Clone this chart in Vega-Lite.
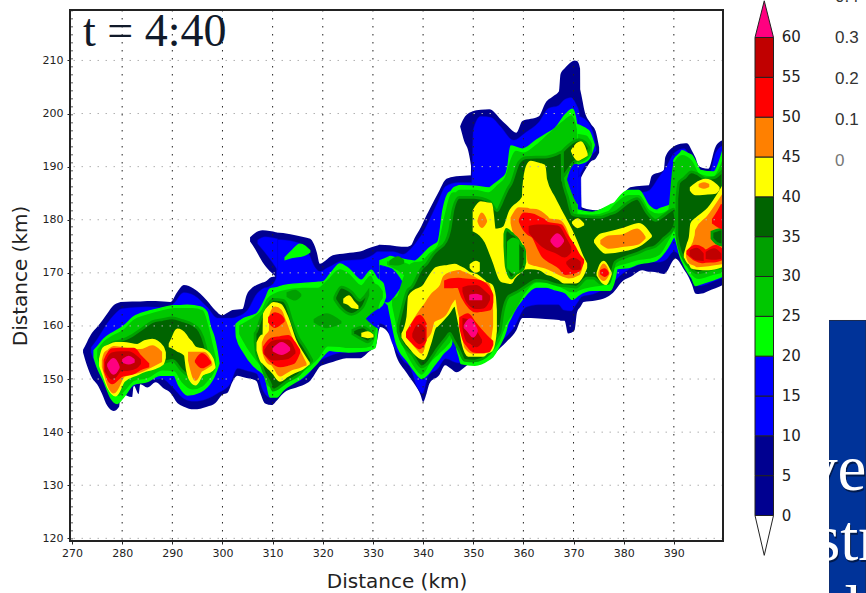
{"$schema":"https://vega.github.io/schema/vega-lite/v6.json","background":"white","padding":{"left":10,"top":-12,"right":0,"bottom":0},"bounds":"flush","spacing":32,"config":{"view":{"stroke":null}},
"datasets":{"storm":[
{"b":"a","v":5,"x":272.2,"y":155.5,"z":155},{"b":"a","v":5,"x":273,"y":157,"z":152.5},{"b":"a","v":5,"x":274,"y":158.7,"z":150.2},{"b":"a","v":5,"x":275,"y":159.8,"z":149},{"b":"a","v":5,"x":276,"y":161,"z":147.2},{"b":"a","v":5,"x":277,"y":162.3,"z":145},{"b":"a","v":5,"x":278.3,"y":163.9,"z":144},{"b":"a","v":5,"x":279.4,"y":164.4,"z":144.8},{"b":"a","v":5,"x":279.7,"y":164.5,"z":147.2},{"b":"a","v":5,"x":282,"y":164.6,"z":146.6},{"b":"a","v":5,"x":282.3,"y":164.6,"z":148.8},{"b":"a","v":5,"x":283.3,"y":164.6,"z":147.2},{"b":"a","v":5,"x":283.6,"y":164.6,"z":149},{"b":"a","v":5,"x":285,"y":164.7,"z":148.4},{"b":"a","v":5,"x":286.7,"y":164.7,"z":149.4},{"b":"a","v":5,"x":288.3,"y":164.6,"z":148.2},{"b":"a","v":5,"x":289.6,"y":164.5,"z":147.4},{"b":"a","v":5,"x":291,"y":166.4,"z":145.5},{"b":"a","v":5,"x":292.3,"y":167.7,"z":144.8},{"b":"a","v":5,"x":294.3,"y":167,"z":144.3},{"b":"a","v":5,"x":296.9,"y":164.8,"z":144.8},{"b":"a","v":5,"x":298.6,"y":162.9,"z":145.5},{"b":"a","v":5,"x":299.9,"y":162,"z":147},{"b":"a","v":5,"x":301,"y":162.5,"z":147.4},{"b":"a","v":5,"x":302,"y":163,"z":149.5},{"b":"a","v":5,"x":303,"y":163.1,"z":150.6},{"b":"a","v":5,"x":304,"y":163.2,"z":150.4},{"b":"a","v":5,"x":304.8,"y":165.8,"z":150.2},{"b":"a","v":5,"x":305.8,"y":167.1,"z":150},{"b":"a","v":5,"x":306.8,"y":167.7,"z":149.6},{"b":"a","v":5,"x":307.5,"y":168,"z":147.5},{"b":"a","v":5,"x":308.5,"y":168.3,"z":145.4},{"b":"a","v":5,"x":309.8,"y":169.2,"z":145.1},{"b":"a","v":5,"x":310.5,"y":169.3,"z":145.6},{"b":"a","v":5,"x":310.7,"y":177.6,"z":145.8},{"b":"a","v":5,"x":312.1,"y":177.5,"z":147.3},{"b":"a","v":5,"x":315,"y":177,"z":148.5},{"b":"a","v":5,"x":316.8,"y":176.6,"z":149.2},{"b":"a","v":5,"x":317.5,"y":176.4,"z":149.7},{"b":"a","v":5,"x":318.8,"y":173.9,"z":151.5},{"b":"a","v":5,"x":319.4,"y":171.7,"z":152.3},{"b":"a","v":5,"x":320.5,"y":172.3,"z":152.8},{"b":"a","v":5,"x":322,"y":173.3,"z":153.2},{"b":"a","v":5,"x":324.7,"y":173.7,"z":153.9},{"b":"a","v":5,"x":327.4,"y":174,"z":153.9},{"b":"a","v":5,"x":329,"y":174.6,"z":155},{"b":"a","v":5,"x":330.7,"y":175.1,"z":156.7},{"b":"a","v":5,"x":331.4,"y":175.3,"z":159.8},{"b":"a","v":5,"x":333.4,"y":175.2,"z":158.2},{"b":"a","v":5,"x":334.7,"y":175,"z":154.2},{"b":"a","v":5,"x":336.7,"y":174.9,"z":151.2},{"b":"a","v":5,"x":337.7,"y":175.3,"z":149.8},{"b":"a","v":5,"x":338.3,"y":176.5,"z":149},{"b":"a","v":5,"x":339.5,"y":178.5,"z":147},{"b":"a","v":5,"x":340,"y":179.5,"z":145.7},{"b":"a","v":5,"x":340.7,"y":180.9,"z":147.3},{"b":"a","v":5,"x":341.3,"y":182,"z":149.2},{"b":"a","v":5,"x":343.2,"y":185.4,"z":150.7},{"b":"a","v":5,"x":344.4,"y":187.5,"z":152.6},{"b":"a","v":5,"x":345.5,"y":188,"z":152},{"b":"a","v":5,"x":346.6,"y":188.2,"z":151.3},{"b":"a","v":5,"x":349.6,"y":188.4,"z":152.9},{"b":"a","v":5,"x":349.8,"y":200.4,"z":152.9},{"b":"a","v":5,"x":351.5,"y":200.7,"z":153.3},{"b":"a","v":5,"x":353.2,"y":200.8,"z":153.8},{"b":"a","v":5,"x":355.5,"y":198.9,"z":156},{"b":"a","v":5,"x":356.5,"y":198,"z":156.9},{"b":"a","v":5,"x":358.6,"y":196.4,"z":159.2},{"b":"a","v":5,"x":359.8,"y":198.6,"z":161.5},{"b":"a","v":5,"x":361.5,"y":199,"z":161.5},{"b":"a","v":5,"x":363.1,"y":199.5,"z":161.4},{"b":"a","v":5,"x":364.4,"y":202,"z":161.3},{"b":"a","v":5,"x":366,"y":203.3,"z":161.2},{"b":"a","v":5,"x":367.1,"y":204.2,"z":161.1},{"b":"a","v":5,"x":367.4,"y":207.4,"z":161},{"b":"a","v":5,"x":368.2,"y":208.5,"z":161},{"b":"a","v":5,"x":368.9,"y":209.2,"z":158.6},{"b":"a","v":5,"x":370.2,"y":210,"z":159.2},{"b":"a","v":5,"x":370.7,"y":209.9,"z":162.6},{"b":"a","v":5,"x":371.3,"y":208.5,"z":163.5},{"b":"a","v":5,"x":371.45,"y":182.5,"z":163.7},{"b":"a","v":5,"x":372,"y":182.2,"z":164.5},{"b":"a","v":5,"x":374.4,"y":181.8,"z":164.8},{"b":"a","v":5,"x":376.4,"y":182.3,"z":165.3},{"b":"a","v":5,"x":377.7,"y":182.7,"z":166.1},{"b":"a","v":5,"x":380,"y":184.9,"z":168.6},{"b":"a","v":5,"x":381.3,"y":186.1,"z":169.2},{"b":"a","v":5,"x":383.7,"y":186.4,"z":170.5},{"b":"a","v":5,"x":385,"y":186.5,"z":170.2},{"b":"a","v":5,"x":385.6,"y":188.3,"z":170.2},{"b":"a","v":5,"x":388,"y":189.3,"z":169.8},{"b":"a","v":5,"x":388.3,"y":191.8,"z":169.9},{"b":"a","v":5,"x":390,"y":193.8,"z":172.5},{"b":"a","v":5,"x":390.3,"y":194,"z":172.7},{"b":"a","v":5,"x":392.3,"y":194.4,"z":170.2},{"b":"a","v":5,"x":392.6,"y":194.4,"z":169.8},{"b":"a","v":5,"x":393.6,"y":193,"z":167.8},{"b":"a","v":5,"x":394.3,"y":191.7,"z":166.1},{"b":"a","v":5,"x":394.9,"y":190.2,"z":166},{"b":"a","v":5,"x":395.6,"y":189.8,"z":166.1},{"b":"a","v":5,"x":396.9,"y":189.6,"z":166.6},{"b":"a","v":5,"x":398.3,"y":193.7,"z":167.1},{"b":"a","v":5,"x":399.75,"y":195,"z":167.7},
{"b":"a2","v":5,"x":305.5,"y":176.7,"z":175.9},{"b":"a2","v":5,"x":306.5,"y":177.5,"z":174.5},{"b":"a2","v":5,"x":308,"y":178,"z":172},{"b":"a2","v":5,"x":310.8,"y":177.6,"z":169.2},
{"b":"a3","v":5,"x":347.4,"y":197.6,"z":197.5},{"b":"a3","v":5,"x":348.2,"y":199.2,"z":194.8},{"b":"a3","v":5,"x":349,"y":200,"z":193},{"b":"a3","v":5,"x":349.9,"y":200.4,"z":188},
{"b":"a4","v":5,"x":370.5,"y":203.6,"z":186},{"b":"a4","v":5,"x":371,"y":205,"z":187},{"b":"a4","v":5,"x":372.4,"y":199.8,"z":189.5},{"b":"a4","v":5,"x":373.5,"y":198,"z":191},{"b":"a4","v":5,"x":374.4,"y":196.7,"z":191.5},{"b":"a4","v":5,"x":375.1,"y":193.6,"z":192.6},
{"b":"c","v":15,"x":273.8,"y":156,"z":155},{"b":"c","v":15,"x":275,"y":157.5,"z":152},{"b":"c","v":15,"x":276,"y":159,"z":150},{"b":"c","v":15,"x":277,"y":160.5,"z":148},{"b":"c","v":15,"x":278.3,"y":162,"z":147},{"b":"c","v":15,"x":280,"y":163.3,"z":147.5},{"b":"c","v":15,"x":285,"y":163.6,"z":149.8},{"b":"c","v":15,"x":288,"y":163.5,"z":150},{"b":"c","v":15,"x":290,"y":164,"z":148.5},{"b":"c","v":15,"x":292.3,"y":166.3,"z":146.3},{"b":"c","v":15,"x":294.3,"y":165.8,"z":145.8},{"b":"c","v":15,"x":297,"y":163.5,"z":146.3},{"b":"c","v":15,"x":299,"y":161.5,"z":147.3},{"b":"c","v":15,"x":301.5,"y":161.5,"z":149},{"b":"c","v":15,"x":303,"y":161.8,"z":152},{"b":"c","v":15,"x":305,"y":163,"z":151.5},{"b":"c","v":15,"x":306.8,"y":166,"z":151},{"b":"c","v":15,"x":308,"y":167,"z":148},{"b":"c","v":15,"x":309.5,"y":167.5,"z":146.5},{"b":"c","v":15,"x":310.7,"y":169,"z":147},{"b":"c","v":15,"x":310.9,"y":176.3,"z":147.4},{"b":"c","v":15,"x":312.5,"y":176.2,"z":148.5},{"b":"c","v":15,"x":316,"y":175.3,"z":150},{"b":"c","v":15,"x":317.3,"y":173.5,"z":151},{"b":"c","v":15,"x":318.2,"y":171.5,"z":152.5},{"b":"c","v":15,"x":319.5,"y":170.3,"z":153.5},{"b":"c","v":15,"x":321,"y":171,"z":154.2},{"b":"c","v":15,"x":324,"y":172.3,"z":155},{"b":"c","v":15,"x":327.5,"y":172.5,"z":155.2},{"b":"c","v":15,"x":330,"y":173.4,"z":157.5},{"b":"c","v":15,"x":331,"y":174,"z":160.5},{"b":"c","v":15,"x":332.5,"y":174,"z":160},{"b":"c","v":15,"x":334,"y":174,"z":156.5},{"b":"c","v":15,"x":336,"y":173.5,"z":153.5},{"b":"c","v":15,"x":337.5,"y":174.5,"z":152},{"b":"c","v":15,"x":338.8,"y":176,"z":148.5},{"b":"c","v":15,"x":339.9,"y":177.5,"z":147.3},{"b":"c","v":15,"x":341,"y":179.5,"z":150.5},{"b":"c","v":15,"x":343,"y":183.5,"z":152},{"b":"c","v":15,"x":344.5,"y":186.3,"z":153.8},{"b":"c","v":15,"x":347,"y":187,"z":153},{"b":"c","v":15,"x":349.7,"y":187,"z":154},{"b":"c","v":15,"x":350,"y":197,"z":154.2},{"b":"c","v":15,"x":351.5,"y":199.5,"z":154.5},{"b":"c","v":15,"x":353.5,"y":199.3,"z":155},{"b":"c","v":15,"x":355.5,"y":197.5,"z":157},{"b":"c","v":15,"x":358,"y":195,"z":159.5},{"b":"c","v":15,"x":360.5,"y":196.5,"z":163.5},{"b":"c","v":15,"x":363,"y":198.3,"z":164},{"b":"c","v":15,"x":365,"y":201,"z":164},{"b":"c","v":15,"x":367,"y":201.5,"z":164},{"b":"c","v":15,"x":368,"y":202.5,"z":163},{"b":"c","v":15,"x":369.5,"y":203,"z":162.8},{"b":"c","v":15,"x":370.5,"y":201.8,"z":164},{"b":"c","v":15,"x":371.2,"y":200,"z":165},{"b":"c","v":15,"x":371.6,"y":181.5,"z":165.5},{"b":"c","v":15,"x":374,"y":181,"z":166},{"b":"c","v":15,"x":377,"y":181.5,"z":167.5},{"b":"c","v":15,"x":380,"y":183.7,"z":170},{"b":"c","v":15,"x":383,"y":185,"z":171.5},{"b":"c","v":15,"x":385,"y":185.5,"z":172},{"b":"c","v":15,"x":387,"y":188,"z":172},{"b":"c","v":15,"x":388.5,"y":190,"z":172.5},{"b":"c","v":15,"x":390,"y":192.5,"z":174},{"b":"c","v":15,"x":392,"y":193.4,"z":172},{"b":"c","v":15,"x":393.5,"y":191.5,"z":169},{"b":"c","v":15,"x":395,"y":189.2,"z":167.5},{"b":"c","v":15,"x":397,"y":188.5,"z":168},{"b":"c","v":15,"x":398.3,"y":192.5,"z":168.5},{"b":"c","v":15,"x":399.75,"y":194,"z":169},
{"b":"c2","v":15,"x":307,"y":176.2,"z":175.5},{"b":"c2","v":15,"x":308.5,"y":176.8,"z":173.8},{"b":"c2","v":15,"x":311,"y":176.4,"z":170.5},
{"b":"c3","v":15,"x":371,"y":199.5,"z":188},{"b":"c3","v":15,"x":372.5,"y":198.8,"z":190.5},{"b":"c3","v":15,"x":374,"y":196,"z":192.5},{"b":"c3","v":15,"x":374.5,"y":193.5,"z":193},
{"b":"g1","v":20,"x":331.4,"y":172.3,"z":165},{"b":"g1","v":20,"x":333,"y":172.9,"z":164},{"b":"g1","v":20,"x":333.4,"y":173.1,"z":162.3},{"b":"g1","v":20,"x":334.7,"y":172.8,"z":156.7},{"b":"g1","v":20,"x":337,"y":172.4,"z":153.2},{"b":"g1","v":20,"x":338.3,"y":172.2,"z":151.5},{"b":"g1","v":20,"x":339.7,"y":173.2,"z":150.1},{"b":"g1","v":20,"x":341,"y":174.5,"z":151},{"b":"g1","v":20,"x":342,"y":175.2,"z":152.3},{"b":"g1","v":20,"x":343,"y":175.9,"z":153.5},{"b":"g1","v":20,"x":344,"y":182,"z":154.8},{"b":"g1","v":20,"x":344.9,"y":184.8,"z":155.6},{"b":"g1","v":20,"x":345.6,"y":185.4,"z":156.4},{"b":"g1","v":20,"x":346,"y":185.9,"z":159},{"b":"g1","v":20,"x":346.3,"y":186.1,"z":159.5},{"b":"g1","v":20,"x":346.6,"y":186.2,"z":156.5},{"b":"g1","v":20,"x":347.2,"y":186.4,"z":154.2},{"b":"g1","v":20,"x":347.6,"y":186.4,"z":152.9},{"b":"g1","v":20,"x":350.3,"y":186.3,"z":152.6},{"b":"g1","v":20,"x":353.2,"y":186,"z":153.7},{"b":"g1","v":20,"x":353.9,"y":186.5,"z":154.2},{"b":"g1","v":20,"x":355.3,"y":187.5,"z":156.4},{"b":"g1","v":20,"x":356.5,"y":188.6,"z":159},{"b":"g1","v":20,"x":356.9,"y":190,"z":160.4},{"b":"g1","v":20,"x":357.5,"y":193.9,"z":161.5},{"b":"g1","v":20,"x":358,"y":193.8,"z":162.5},{"b":"g1","v":20,"x":359.8,"y":193.3,"z":165},{"b":"g1","v":20,"x":362.6,"y":195,"z":167.3},{"b":"g1","v":20,"x":364.6,"y":196.2,"z":167.3},{"b":"g1","v":20,"x":366.4,"y":197.3,"z":166.8},{"b":"g1","v":20,"x":368.4,"y":199.8,"z":166.2},{"b":"g1","v":20,"x":369.8,"y":200.8,"z":165},{"b":"g1","v":20,"x":370.6,"y":198,"z":165.5},{"b":"g1","v":20,"x":370.7,"y":182,"z":165.6},{"b":"g1","v":20,"x":371,"y":181.8,"z":165.8},{"b":"g1","v":20,"x":373.7,"y":181.4,"z":166.7},{"b":"g1","v":20,"x":377.3,"y":182.8,"z":166.7},{"b":"g1","v":20,"x":378.3,"y":183.3,"z":169},{"b":"g1","v":20,"x":378.7,"y":183.8,"z":170.8},{"b":"g1","v":20,"x":381,"y":185.5,"z":171},{"b":"g1","v":20,"x":383,"y":185.5,"z":171.7},{"b":"g1","v":20,"x":385,"y":182.7,"z":172},{"b":"g1","v":20,"x":386.6,"y":181.8,"z":172.4},{"b":"g1","v":20,"x":387,"y":182,"z":172.7},{"b":"g1","v":20,"x":389.9,"y":183.2,"z":176.7},{"b":"g1","v":20,"x":390,"y":191.2,"z":176.9},{"b":"g1","v":20,"x":391.3,"y":192.6,"z":173},{"b":"g1","v":20,"x":391.6,"y":193,"z":172.3},{"b":"g1","v":20,"x":393,"y":192.4,"z":169.8},{"b":"g1","v":20,"x":393.6,"y":192.1,"z":169},{"b":"g1","v":20,"x":394.3,"y":191,"z":167.6},{"b":"g1","v":20,"x":395.3,"y":189.3,"z":167.9},{"b":"g1","v":20,"x":397.9,"y":189,"z":168.7},{"b":"g1","v":20,"x":399.75,"y":193,"z":169.4},
{"b":"p1","v":16,"x":331.4,"y":171.4,"z":164.8},{"b":"p1","v":16,"x":333,"y":171,"z":164.5},{"b":"p1","v":16,"x":334,"y":170.6,"z":165.3},{"b":"p1","v":16,"x":335,"y":169.5,"z":166.6},{"b":"p1","v":16,"x":336,"y":168,"z":168},
{"b":"g2","v":20,"x":274.4,"y":155.4,"z":154.1},{"b":"g2","v":20,"x":275,"y":156,"z":152.3},{"b":"g2","v":20,"x":276.3,"y":157.5,"z":149.7},{"b":"g2","v":20,"x":277.7,"y":158.5,"z":146.5},{"b":"g2","v":20,"x":279,"y":159.2,"z":145.4},{"b":"g2","v":20,"x":280.3,"y":160,"z":146.6},{"b":"g2","v":20,"x":282.3,"y":161.7,"z":149},{"b":"g2","v":20,"x":285,"y":162.7,"z":149.5},{"b":"g2","v":20,"x":287.6,"y":163.3,"z":150.7},{"b":"g2","v":20,"x":290.3,"y":163.8,"z":150.7},{"b":"g2","v":20,"x":291.3,"y":163.8,"z":148.8},{"b":"g2","v":20,"x":293,"y":163.9,"z":147},{"b":"g2","v":20,"x":295.6,"y":163.6,"z":147.6},{"b":"g2","v":20,"x":296.9,"y":162.6,"z":148.5},{"b":"g2","v":20,"x":297.6,"y":159.8,"z":149.3},{"b":"g2","v":20,"x":298.3,"y":158,"z":150.4},{"b":"g2","v":20,"x":298.9,"y":155.4,"z":151.8},{"b":"g2","v":20,"x":299.3,"y":153,"z":152.9},
{"b":"g3","v":20,"x":302.7,"y":160.3,"z":159.5},{"b":"g3","v":20,"x":302.8,"y":160.4,"z":157.9},{"b":"g3","v":20,"x":304.2,"y":161.4,"z":155.1},{"b":"g3","v":20,"x":306.1,"y":162,"z":152.6},{"b":"g3","v":20,"x":306.8,"y":162.3,"z":152},{"b":"g3","v":20,"x":308.5,"y":165,"z":150.4},{"b":"g3","v":20,"x":309.5,"y":167,"z":146.6},{"b":"g3","v":20,"x":310.8,"y":167.2,"z":146.6},{"b":"g3","v":20,"x":312.1,"y":167.6,"z":147.9},{"b":"g3","v":20,"x":316.1,"y":168,"z":150.4},{"b":"g3","v":20,"x":318.8,"y":168.2,"z":152.9},{"b":"g3","v":20,"x":320,"y":168.3,"z":154.3},{"b":"g3","v":20,"x":321.4,"y":169.7,"z":155.4},{"b":"g3","v":20,"x":322.1,"y":170.5,"z":155.3},{"b":"g3","v":20,"x":323.4,"y":171.7,"z":155.2},{"b":"g3","v":20,"x":325.1,"y":170.8,"z":155.1},{"b":"g3","v":20,"x":327.7,"y":168.6,"z":155.2},{"b":"g3","v":20,"x":329.7,"y":170.5,"z":155.6},{"b":"g3","v":20,"x":330.4,"y":169.6,"z":155.9},{"b":"g3","v":20,"x":330.8,"y":169,"z":158.5},{"b":"g3","v":20,"x":331,"y":168.8,"z":163},{"b":"g3","v":20,"x":332,"y":168,"z":164.2},{"b":"g3","v":20,"x":332.5,"y":165.8,"z":165.4},
{"b":"g4","v":20,"x":312.5,"y":172.9,"z":172.5},{"b":"g4","v":20,"x":314,"y":174.3,"z":172.9},{"b":"g4","v":20,"x":315.4,"y":175.4,"z":173.1},{"b":"g4","v":20,"x":316.5,"y":175,"z":173.4},{"b":"g4","v":20,"x":317.4,"y":174.2,"z":173.9},
{"b":"g5","v":20,"x":370.5,"y":198,"z":190.4},{"b":"g5","v":20,"x":372.7,"y":197,"z":191.1},{"b":"g5","v":20,"x":373.1,"y":196.7,"z":191.5},{"b":"g5","v":20,"x":374.1,"y":194.2,"z":194},
{"b":"h1","v":25,"x":334,"y":165,"z":163.9},{"b":"h1","v":25,"x":335,"y":165.5,"z":159.5},{"b":"h1","v":25,"x":335.7,"y":167.5,"z":157.3},{"b":"h1","v":25,"x":337,"y":171,"z":154.5},{"b":"h1","v":25,"x":338,"y":171.8,"z":152.9},{"b":"h1","v":25,"x":339.7,"y":172,"z":151},{"b":"h1","v":25,"x":341.3,"y":173.5,"z":153.2},{"b":"h1","v":25,"x":343,"y":175,"z":154.8},{"b":"h1","v":25,"x":344.5,"y":181,"z":156.2},{"b":"h1","v":25,"x":345.5,"y":184.5,"z":157.5},{"b":"h1","v":25,"x":346,"y":185,"z":160.5},{"b":"h1","v":25,"x":346.5,"y":185,"z":160},{"b":"h1","v":25,"x":347.2,"y":185.5,"z":156},{"b":"h1","v":25,"x":347.9,"y":185.5,"z":154},{"b":"h1","v":25,"x":350.3,"y":185.5,"z":153.8},{"b":"h1","v":25,"x":353,"y":185,"z":154.8},{"b":"h1","v":25,"x":355,"y":186.5,"z":157},{"b":"h1","v":25,"x":356.5,"y":188,"z":160.5},{"b":"h1","v":25,"x":357.5,"y":191,"z":162},{"b":"h1","v":25,"x":358.5,"y":192.8,"z":163.5},{"b":"h1","v":25,"x":360,"y":192.5,"z":166},{"b":"h1","v":25,"x":362.6,"y":194,"z":168.3},{"b":"h1","v":25,"x":365,"y":196,"z":168.3},{"b":"h1","v":25,"x":368.4,"y":198.8,"z":167},{"b":"h1","v":25,"x":369.5,"y":199.5,"z":166.5},{"b":"h1","v":25,"x":370.5,"y":197,"z":166.5},{"b":"h1","v":25,"x":370.6,"y":181,"z":166.6},{"b":"h1","v":25,"x":373.7,"y":180.8,"z":167.5},{"b":"h1","v":25,"x":377,"y":181.5,"z":168},{"b":"h1","v":25,"x":378,"y":182.5,"z":171},{"b":"h1","v":25,"x":381,"y":184.5,"z":172},{"b":"h1","v":25,"x":383,"y":184.5,"z":172.6},{"b":"h1","v":25,"x":385,"y":181.7,"z":172.8},{"b":"h1","v":25,"x":387,"y":181,"z":173.5},{"b":"h1","v":25,"x":389,"y":181.8,"z":176.5},{"b":"h1","v":25,"x":390,"y":190.2,"z":178},{"b":"h1","v":25,"x":391.6,"y":192,"z":174},{"b":"h1","v":25,"x":393.5,"y":191,"z":170},{"b":"h1","v":25,"x":395,"y":188.5,"z":169},{"b":"h1","v":25,"x":397.9,"y":188,"z":169.8},{"b":"h1","v":25,"x":399.75,"y":191,"z":170.2},
{"b":"h1b","v":25,"x":333,"y":172,"z":171.6},{"b":"h1b","v":25,"x":335,"y":172,"z":170.6},{"b":"h1b","v":25,"x":337,"y":171.5,"z":169.2},
{"b":"h2","v":25,"x":275.2,"y":155.5,"z":154},{"b":"h2","v":25,"x":276.5,"y":157,"z":151},{"b":"h2","v":25,"x":278,"y":158,"z":148.3},{"b":"h2","v":25,"x":279.3,"y":158.6,"z":147},{"b":"h2","v":25,"x":280.5,"y":159.3,"z":148},{"b":"h2","v":25,"x":282.3,"y":161,"z":149.8},{"b":"h2","v":25,"x":285,"y":162,"z":150.3},{"b":"h2","v":25,"x":288,"y":162.8,"z":151.8},{"b":"h2","v":25,"x":290.5,"y":163.2,"z":151.6},{"b":"h2","v":25,"x":292,"y":163.2,"z":149.5},{"b":"h2","v":25,"x":294,"y":163.2,"z":148.2},{"b":"h2","v":25,"x":296,"y":162.8,"z":148.8},{"b":"h2","v":25,"x":297,"y":160,"z":149.8},{"b":"h2","v":25,"x":298,"y":156,"z":151},{"b":"h2","v":25,"x":298.5,"y":154,"z":152.2},
{"b":"h3","v":25,"x":303.5,"y":160,"z":158.5},{"b":"h3","v":25,"x":305,"y":160.8,"z":156},{"b":"h3","v":25,"x":306.5,"y":161.7,"z":154},{"b":"h3","v":25,"x":308,"y":163,"z":152},{"b":"h3","v":25,"x":309,"y":165,"z":149},{"b":"h3","v":25,"x":310.5,"y":166,"z":148.3},{"b":"h3","v":25,"x":312,"y":166.5,"z":149},{"b":"h3","v":25,"x":316,"y":167,"z":151.5},{"b":"h3","v":25,"x":319,"y":167,"z":154},{"b":"h3","v":25,"x":321,"y":168.5,"z":156.3},{"b":"h3","v":25,"x":323.4,"y":170.5,"z":156.2},{"b":"h3","v":25,"x":325,"y":169.8,"z":156},{"b":"h3","v":25,"x":327.7,"y":167.5,"z":156},{"b":"h3","v":25,"x":329.5,"y":169.3,"z":156.3},{"b":"h3","v":25,"x":330.2,"y":168,"z":158},{"b":"h3","v":25,"x":331,"y":167.5,"z":163.8},{"b":"h3","v":25,"x":331.8,"y":166.5,"z":165.3},
{"b":"h4","v":25,"x":371,"y":196,"z":190.8},{"b":"h4","v":25,"x":372.5,"y":195.7,"z":191.5},{"b":"h4","v":25,"x":373.5,"y":194.3,"z":192.5},
{"b":"p2","v":16,"x":328.7,"y":161.4,"z":161.3},{"b":"p2","v":16,"x":330,"y":162.5,"z":160.2},{"b":"p2","v":16,"x":331.2,"y":163.2,"z":159.5},
{"b":"p3","v":16,"x":368.8,"y":187.6,"z":187.5},{"b":"p3","v":16,"x":370.1,"y":190.4,"z":184.2},{"b":"p3","v":16,"x":370.8,"y":190.4,"z":183},
{"b":"d1","v":35,"x":335,"y":160,"z":159},{"b":"d1","v":35,"x":335.5,"y":162,"z":157.5},{"b":"d1","v":35,"x":337,"y":166.8,"z":155.4},{"b":"d1","v":35,"x":337.7,"y":167.3,"z":154.8},{"b":"d1","v":35,"x":339.7,"y":170.8,"z":152.3},{"b":"d1","v":35,"x":340.7,"y":171.7,"z":152.8},{"b":"d1","v":35,"x":342,"y":173.5,"z":154.5},{"b":"d1","v":35,"x":342.7,"y":174.2,"z":155.5},{"b":"d1","v":35,"x":344.6,"y":176,"z":157.8},{"b":"d1","v":35,"x":345.3,"y":178,"z":158.6},{"b":"d1","v":35,"x":346,"y":182,"z":157.5},{"b":"d1","v":35,"x":347.2,"y":184.2,"z":155.4},{"b":"d1","v":35,"x":348.3,"y":184.2,"z":153.5},{"b":"d1","v":35,"x":350.2,"y":184.2,"z":153.4},{"b":"d1","v":35,"x":353.2,"y":183.5,"z":154.8},{"b":"d1","v":35,"x":354.8,"y":181.7,"z":158},{"b":"d1","v":35,"x":355.3,"y":182.5,"z":158.9},{"b":"d1","v":35,"x":356,"y":184,"z":162.9},{"b":"d1","v":35,"x":357,"y":186,"z":165.5},{"b":"d1","v":35,"x":357.5,"y":186.7,"z":165.8},{"b":"d1","v":35,"x":359.1,"y":190.8,"z":166.6},{"b":"d1","v":35,"x":360.5,"y":191.7,"z":167.5},{"b":"d1","v":35,"x":362.6,"y":191.8,"z":168.6},{"b":"d1","v":35,"x":364.4,"y":191.8,"z":168.4},{"b":"d1","v":35,"x":366.5,"y":192.3,"z":167.8},{"b":"d1","v":35,"x":367.7,"y":192.8,"z":167.6},{"b":"d1","v":35,"x":367.8,"y":187.9,"z":167.6},{"b":"d1","v":35,"x":368.8,"y":184.2,"z":167.5},{"b":"d1","v":35,"x":369.8,"y":181,"z":167.4},{"b":"d1","v":35,"x":370.5,"y":180.8,"z":167.3},{"b":"d1","v":35,"x":372.7,"y":180.6,"z":169},{"b":"d1","v":35,"x":374,"y":180.5,"z":169},{"b":"d1","v":35,"x":375.5,"y":180.5,"z":168},{"b":"d1","v":35,"x":377,"y":181,"z":168},{"b":"d1","v":35,"x":378.3,"y":181.4,"z":172},{"b":"d1","v":35,"x":380.5,"y":183,"z":173},{"b":"d1","v":35,"x":382.7,"y":184,"z":173.7},{"b":"d1","v":35,"x":384.6,"y":181.4,"z":174.5},{"b":"d1","v":35,"x":386.3,"y":179.9,"z":175},{"b":"d1","v":35,"x":388,"y":180.8,"z":176.5},{"b":"d1","v":35,"x":390,"y":182,"z":178.5},{"b":"d1","v":35,"x":390.4,"y":180,"z":180},
{"b":"d2","v":35,"x":367.8,"y":192.9,"z":187.9},{"b":"d2","v":35,"x":369,"y":194,"z":189.5},{"b":"d2","v":35,"x":370,"y":194.7,"z":190.8},{"b":"d2","v":35,"x":371.1,"y":195.1,"z":191.3},{"b":"d2","v":35,"x":372.4,"y":194.5,"z":192},{"b":"d2","v":35,"x":373.1,"y":193.6,"z":193.3},
{"b":"d3","v":35,"x":390.6,"y":184,"z":177},{"b":"d3","v":35,"x":391,"y":187,"z":175},{"b":"d3","v":35,"x":392,"y":187.8,"z":172.5},{"b":"d3","v":35,"x":393.5,"y":189,"z":170.7},{"b":"d3","v":35,"x":394.6,"y":188.7,"z":170},{"b":"d3","v":35,"x":396.3,"y":187.7,"z":170.3},{"b":"d3","v":35,"x":398,"y":187.9,"z":170.8},{"b":"d3","v":35,"x":399.75,"y":189.3,"z":171},
{"b":"d4","v":35,"x":276.7,"y":155.5,"z":155},{"b":"d4","v":35,"x":278,"y":156.8,"z":152},{"b":"d4","v":35,"x":280,"y":157.3,"z":150},{"b":"d4","v":35,"x":282,"y":158.2,"z":152},{"b":"d4","v":35,"x":284,"y":159.5,"z":152},{"b":"d4","v":35,"x":286,"y":160.8,"z":152},{"b":"d4","v":35,"x":288,"y":161.2,"z":153},{"b":"d4","v":35,"x":290,"y":161.5,"z":153.5},{"b":"d4","v":35,"x":292,"y":161,"z":151.5},{"b":"d4","v":35,"x":294,"y":160.3,"z":150.3},{"b":"d4","v":35,"x":295.5,"y":159,"z":150.5},{"b":"d4","v":35,"x":296.5,"y":156.5,"z":151.5},{"b":"d4","v":35,"x":297,"y":154.5,"z":152.5},
{"b":"d5","v":35,"x":306.5,"y":158.6,"z":157},{"b":"d5","v":35,"x":306.8,"y":159,"z":154.8},{"b":"d5","v":35,"x":307.8,"y":161.7,"z":152.6},{"b":"d5","v":35,"x":308.1,"y":162,"z":151.7},{"b":"d5","v":35,"x":309.5,"y":164.5,"z":149.2},{"b":"d5","v":35,"x":310.1,"y":165,"z":147.9},{"b":"d5","v":35,"x":312.1,"y":164.8,"z":149},{"b":"d5","v":35,"x":312.8,"y":164,"z":149.5},{"b":"d5","v":35,"x":313.8,"y":161,"z":150},{"b":"d5","v":35,"x":315.4,"y":157.3,"z":151},{"b":"d5","v":35,"x":316,"y":156.5,"z":151.7},{"b":"d5","v":35,"x":317.8,"y":153.6,"z":153.4},
{"b":"d6","v":35,"x":322.4,"y":165.4,"z":165},{"b":"d6","v":35,"x":323.7,"y":167.3,"z":163.3},{"b":"d6","v":35,"x":325.7,"y":166.4,"z":162.2},{"b":"d6","v":35,"x":327.4,"y":164.8,"z":163},{"b":"d6","v":35,"x":328,"y":165.2,"z":163.6},{"b":"d6","v":35,"x":329,"y":166.4,"z":165.8},
{"b":"d7","v":35,"x":326,"y":159.2,"z":158.5},{"b":"d7","v":35,"x":328,"y":159.8,"z":157.4},{"b":"d7","v":35,"x":329,"y":159.3,"z":157},{"b":"d7","v":35,"x":330,"y":158.2,"z":158},
{"b":"e1","v":30,"x":318.4,"y":161.2,"z":160.8},{"b":"e1","v":30,"x":320.8,"y":162.2,"z":159.8},{"b":"e1","v":30,"x":323.5,"y":160.8,"z":160.6},
{"b":"e2","v":30,"x":313,"y":166.2,"z":165.6},{"b":"e2","v":30,"x":314.5,"y":166.6,"z":165},{"b":"e2","v":30,"x":315.5,"y":165.9,"z":165.7},
{"b":"e3","v":30,"x":333.5,"y":172.2,"z":171.7},{"b":"e3","v":30,"x":335,"y":172.9,"z":171.6},{"b":"e3","v":30,"x":336,"y":172.3,"z":171.9},
{"b":"y1","v":40,"x":324.4,"y":165,"z":164.5},{"b":"y1","v":40,"x":325.2,"y":165.5,"z":164.2},{"b":"y1","v":40,"x":326,"y":164.5,"z":163.6},{"b":"y1","v":40,"x":326.8,"y":163.7,"z":163.5},
{"b":"y2","v":40,"x":328,"y":158.5,"z":158.2},{"b":"y2","v":40,"x":329,"y":158.7,"z":158},{"b":"y2","v":40,"x":329.8,"y":158.2,"z":158.1},
{"b":"y3","v":40,"x":307.1,"y":156.8,"z":155.4},{"b":"y3","v":40,"x":307.8,"y":158,"z":153.5},{"b":"y3","v":40,"x":308.3,"y":158.2,"z":153},{"b":"y3","v":40,"x":308.4,"y":162.3,"z":152.9},{"b":"y3","v":40,"x":309.5,"y":163.7,"z":151.9},{"b":"y3","v":40,"x":310.2,"y":164.2,"z":151.2},{"b":"y3","v":40,"x":311.5,"y":163.9,"z":149.8},{"b":"y3","v":40,"x":312.8,"y":161.7,"z":150.6},{"b":"y3","v":40,"x":314.4,"y":157.3,"z":151.4},{"b":"y3","v":40,"x":316,"y":154.6,"z":152.1},{"b":"y3","v":40,"x":317.1,"y":153,"z":152.9},
{"b":"o3","v":45,"x":308.2,"y":156.8,"z":155.5},{"b":"o3","v":45,"x":308.6,"y":157.8,"z":154.2},{"b":"o3","v":45,"x":309.6,"y":159,"z":153},{"b":"o3","v":45,"x":309.7,"y":162,"z":153},{"b":"o3","v":45,"x":310.5,"y":163.3,"z":152.2},{"b":"o3","v":45,"x":311.5,"y":162.8,"z":150.8},{"b":"o3","v":45,"x":312.3,"y":161,"z":151.2},{"b":"o3","v":45,"x":313.8,"y":157.3,"z":152},{"b":"o3","v":45,"x":315.3,"y":155,"z":152.4},{"b":"o3","v":45,"x":316.4,"y":152.9,"z":152.8},
{"b":"r3a","v":50,"x":309.5,"y":161.5,"z":160.8},{"b":"r3a","v":50,"x":310.5,"y":162.2,"z":160},{"b":"r3a","v":50,"x":311.5,"y":161.8,"z":160.6},{"b":"r3a","v":50,"x":312,"y":161.2,"z":161},
{"b":"r3","v":50,"x":308.5,"y":156,"z":155},{"b":"r3","v":50,"x":309.8,"y":157.4,"z":153.5},{"b":"r3","v":50,"x":311.5,"y":157.7,"z":152.6},{"b":"r3","v":50,"x":313.1,"y":157.9,"z":152.9},{"b":"r3","v":50,"x":314.1,"y":156.9,"z":153.2},{"b":"r3","v":50,"x":315.1,"y":155.4,"z":155},
{"b":"k3","v":55,"x":308.8,"y":155.4,"z":154.8},{"b":"k3","v":55,"x":310.1,"y":156.8,"z":153.9},{"b":"k3","v":55,"x":311.5,"y":157,"z":154},{"b":"k3","v":55,"x":313,"y":157,"z":154.2},{"b":"k3","v":55,"x":314.1,"y":155.2,"z":155},
{"b":"m3","v":60,"x":310.5,"y":155.6,"z":155.5},{"b":"m3","v":60,"x":311.8,"y":156.5,"z":155},{"b":"m3","v":60,"x":313,"y":155.7,"z":155.6},
{"b":"y4","v":40,"x":275.7,"y":153.8,"z":152.5},{"b":"y4","v":40,"x":276.3,"y":155.7,"z":151},{"b":"y4","v":40,"x":277.3,"y":156.2,"z":148.5},{"b":"y4","v":40,"x":278.7,"y":156.7,"z":147},{"b":"y4","v":40,"x":280.3,"y":156.7,"z":149.7},{"b":"y4","v":40,"x":283,"y":156.3,"z":151},{"b":"y4","v":40,"x":284.5,"y":157,"z":151.6},{"b":"y4","v":40,"x":286,"y":157.3,"z":152},{"b":"y4","v":40,"x":288,"y":156,"z":152.9},{"b":"y4","v":40,"x":288.4,"y":155,"z":154},
{"b":"o4","v":45,"x":276.3,"y":153.5,"z":152.3},{"b":"o4","v":45,"x":276.7,"y":154.8,"z":151},{"b":"o4","v":45,"x":277.3,"y":155.2,"z":149.1},{"b":"o4","v":45,"x":278.3,"y":155.9,"z":147.6},{"b":"o4","v":45,"x":280.3,"y":155.6,"z":150.7},{"b":"o4","v":45,"x":283.7,"y":155.3,"z":151.6},{"b":"o4","v":45,"x":286,"y":156,"z":152.6},{"b":"o4","v":45,"x":287.6,"y":155,"z":153.4},
{"b":"r4","v":50,"x":276.7,"y":153.5,"z":151.6},{"b":"r4","v":50,"x":278,"y":155.4,"z":149.4},{"b":"r4","v":50,"x":279.7,"y":155.5,"z":150.7},{"b":"r4","v":50,"x":282.3,"y":155.5,"z":151.3},{"b":"r4","v":50,"x":283.5,"y":154.2,"z":152},{"b":"r4","v":50,"x":285,"y":152.8,"z":152.5},
{"b":"k4","v":55,"x":277,"y":153,"z":151.6},{"b":"k4","v":55,"x":278,"y":154.6,"z":150.3},{"b":"k4","v":55,"x":279.7,"y":154.8,"z":151.9},{"b":"k4","v":55,"x":281.3,"y":154.8,"z":152},{"b":"k4","v":55,"x":282.7,"y":154,"z":152.4},{"b":"k4","v":55,"x":283.3,"y":153.5,"z":153},
{"b":"m4","v":60,"x":277.5,"y":152.7,"z":152.5},{"b":"m4","v":60,"x":278.3,"y":153.5,"z":151.3},{"b":"m4","v":60,"x":279,"y":152.3,"z":152.2},
{"b":"m4b","v":60,"x":280.5,"y":153.5,"z":153.4},{"b":"m4b","v":60,"x":281.3,"y":153.9,"z":153.2},{"b":"m4b","v":60,"x":282,"y":153.5,"z":153.4},
{"b":"y5","v":40,"x":289.6,"y":156.6,"z":156.2},{"b":"y5","v":40,"x":290.1,"y":157.6,"z":156},{"b":"y5","v":40,"x":291,"y":159.2,"z":155.5},{"b":"y5","v":40,"x":292.6,"y":158.2,"z":154.6},{"b":"y5","v":40,"x":293,"y":157.6,"z":152},{"b":"y5","v":40,"x":293.6,"y":157,"z":150},{"b":"y5","v":40,"x":294.6,"y":155.8,"z":149.1},{"b":"y5","v":40,"x":296,"y":155.5,"z":151},{"b":"y5","v":40,"x":296.3,"y":155.4,"z":151.1},{"b":"y5","v":40,"x":297.9,"y":153.8,"z":151.8},{"b":"y5","v":40,"x":298.3,"y":152.3,"z":152.2},
{"b":"o5","v":45,"x":293.5,"y":154.8,"z":153.5},{"b":"o5","v":45,"x":294,"y":154.8,"z":151.5},{"b":"o5","v":45,"x":294.6,"y":154.8,"z":150},{"b":"o5","v":45,"x":295.6,"y":154.8,"z":151.6},{"b":"o5","v":45,"x":296.3,"y":154.8,"z":152},{"b":"o5","v":45,"x":297.6,"y":153,"z":152.8},
{"b":"r5","v":50,"x":294.9,"y":153.4,"z":153.3},{"b":"r5","v":50,"x":295.9,"y":154.5,"z":152.4},{"b":"r5","v":50,"x":297.3,"y":153.2,"z":153.1},
{"b":"y6","v":40,"x":336,"y":158.5,"z":157.9},{"b":"y6","v":40,"x":337,"y":161.7,"z":156.5},{"b":"y6","v":40,"x":337.3,"y":165.5,"z":156.2},{"b":"y6","v":40,"x":338.3,"y":166.5,"z":155},{"b":"y6","v":40,"x":340,"y":167.3,"z":153.9},{"b":"y6","v":40,"x":341.3,"y":169.2,"z":156.7},{"b":"y6","v":40,"x":342.3,"y":170.5,"z":159.8},{"b":"y6","v":40,"x":342.7,"y":170.8,"z":160.1},{"b":"y6","v":40,"x":344.9,"y":171.2,"z":162.3},{"b":"y6","v":40,"x":346.3,"y":171.4,"z":163.9},{"b":"y6","v":40,"x":347.3,"y":171,"z":160.4},{"b":"y6","v":40,"x":348,"y":170.7,"z":156.7},{"b":"y6","v":40,"x":349,"y":170,"z":154.5},{"b":"y6","v":40,"x":350.6,"y":169.5,"z":154.5},{"b":"y6","v":40,"x":352,"y":168.5,"z":154.5},{"b":"y6","v":40,"x":352.6,"y":168,"z":155},{"b":"y6","v":40,"x":353.6,"y":167.6,"z":155.5},{"b":"y6","v":40,"x":354.2,"y":165.5,"z":157.5},{"b":"y6","v":40,"x":354.4,"y":163,"z":159},
{"b":"y7","v":40,"x":349.6,"y":171.5,"z":171},{"b":"y7","v":40,"x":350.5,"y":172,"z":170.3},{"b":"y7","v":40,"x":351,"y":171.8,"z":170.5},
{"b":"y8","v":40,"x":350.2,"y":181.7,"z":178},{"b":"y8","v":40,"x":351.5,"y":183.2,"z":177.2},{"b":"y8","v":40,"x":352.6,"y":183,"z":175.8},{"b":"y8","v":40,"x":353.5,"y":182.9,"z":173.7},{"b":"y8","v":40,"x":353.8,"y":181,"z":173},{"b":"y8","v":40,"x":354.2,"y":178,"z":172},{"b":"y8","v":40,"x":355.6,"y":178.2,"z":168.6},{"b":"y8","v":40,"x":356.2,"y":178.5,"z":168.4},{"b":"y8","v":40,"x":357.5,"y":181.7,"z":168.2},{"b":"y8","v":40,"x":358,"y":182.3,"z":169},{"b":"y8","v":40,"x":360,"y":184.2,"z":170.8},{"b":"y8","v":40,"x":360.1,"y":186,"z":170.9},{"b":"y8","v":40,"x":360.8,"y":190,"z":171},{"b":"y8","v":40,"x":361.5,"y":190.8,"z":171},{"b":"y8","v":40,"x":363.2,"y":190.4,"z":170.8},{"b":"y8","v":40,"x":364.1,"y":190.1,"z":170.3},{"b":"y8","v":40,"x":364.4,"y":187.6,"z":170.1},{"b":"y8","v":40,"x":366,"y":184.2,"z":169.5},{"b":"y8","v":40,"x":367.2,"y":182,"z":168.9},{"b":"y8","v":40,"x":368.1,"y":180.4,"z":168.3},{"b":"y8","v":40,"x":369.8,"y":177.3,"z":168.3},{"b":"y8","v":40,"x":370.5,"y":175.8,"z":168.3},{"b":"y8","v":40,"x":371.7,"y":173,"z":169.5},{"b":"y8","v":40,"x":372.4,"y":171.7,"z":171},
{"b":"s1","v":35,"x":356.3,"y":177.3,"z":175},{"b":"s1","v":35,"x":356.6,"y":178.2,"z":171.1},{"b":"s1","v":35,"x":357.6,"y":177.5,"z":169},{"b":"s1","v":35,"x":358.5,"y":177,"z":169.8},{"b":"s1","v":35,"x":359.9,"y":175,"z":170.7},{"b":"s1","v":35,"x":360.3,"y":175,"z":172},
{"b":"s2","v":25,"x":356.9,"y":175.8,"z":171},{"b":"s2","v":25,"x":358,"y":176.5,"z":170},{"b":"s2","v":25,"x":359,"y":176,"z":170.3},
{"b":"y9","v":40,"x":369.8,"y":193,"z":192.9},{"b":"y9","v":40,"x":370.8,"y":194.2,"z":191.4},{"b":"y9","v":40,"x":371.4,"y":194.5,"z":191.6},{"b":"y9","v":40,"x":372.5,"y":192.4,"z":192.2},
{"b":"y10","v":40,"x":370,"y":179.5,"z":179.4},{"b":"y10","v":40,"x":370.8,"y":180,"z":178.7},{"b":"y10","v":40,"x":371.8,"y":179.2,"z":179.1},
{"b":"o8","v":45,"x":351.2,"y":179.8,"z":179.7},{"b":"o8","v":45,"x":351.7,"y":181,"z":178.8},{"b":"o8","v":45,"x":352.4,"y":179.8,"z":179.7},
{"b":"o9","v":45,"x":357.8,"y":180.3,"z":179.4},{"b":"o9","v":45,"x":358.2,"y":181,"z":177.9},{"b":"o9","v":45,"x":359.1,"y":182,"z":177},{"b":"o9","v":45,"x":360.8,"y":181.9,"z":174.5},{"b":"o9","v":45,"x":361.2,"y":181.8,"z":172},{"b":"o9","v":45,"x":362.5,"y":181.7,"z":171.6},{"b":"o9","v":45,"x":364.6,"y":180.4,"z":171.1},{"b":"o9","v":45,"x":365.1,"y":179.9,"z":170.9},{"b":"o9","v":45,"x":367,"y":179.7,"z":170},{"b":"o9","v":45,"x":368.6,"y":177.5,"z":169.4},{"b":"o9","v":45,"x":369,"y":176.3,"z":169.3},{"b":"o9","v":45,"x":371,"y":172.5,"z":169.9},{"b":"o9","v":45,"x":371.4,"y":172,"z":171},
{"b":"r9","v":50,"x":359.5,"y":180,"z":179.7},{"b":"r9","v":50,"x":360.1,"y":181,"z":178.5},{"b":"r9","v":50,"x":361,"y":180.9,"z":177.5},{"b":"r9","v":50,"x":362.1,"y":180.7,"z":176.8},{"b":"r9","v":50,"x":363.1,"y":180.2,"z":174.8},{"b":"r9","v":50,"x":364,"y":179.8,"z":173.2},{"b":"r9","v":50,"x":364.8,"y":179.2,"z":172.6},{"b":"r9","v":50,"x":367.4,"y":178.8,"z":171},{"b":"r9","v":50,"x":368.4,"y":177.2,"z":170},{"b":"r9","v":50,"x":370,"y":174.9,"z":170.2},{"b":"r9","v":50,"x":371,"y":173.2,"z":170.6},{"b":"r9","v":50,"x":371.7,"y":172.4,"z":172},
{"b":"k9","v":55,"x":361.5,"y":178.5,"z":177.7},{"b":"k9","v":55,"x":362.8,"y":178.7,"z":176.3},{"b":"k9","v":55,"x":364,"y":178.7,"z":175.2},{"b":"k9","v":55,"x":366.8,"y":178.5,"z":174},{"b":"k9","v":55,"x":368.2,"y":176.3,"z":173.3},{"b":"k9","v":55,"x":369.1,"y":174.8,"z":174},
{"b":"k10","v":55,"x":369,"y":171.9,"z":171.8},{"b":"k10","v":55,"x":370,"y":172.4,"z":170.9},{"b":"k10","v":55,"x":371,"y":171.9,"z":171},
{"b":"m9","v":60,"x":365.9,"y":176.1,"z":176},{"b":"m9","v":60,"x":366.8,"y":177,"z":175.2},{"b":"m9","v":60,"x":367.6,"y":176.1,"z":176},
{"b":"o6","v":45,"x":337,"y":158.9,"z":158},{"b":"o6","v":45,"x":339,"y":162,"z":155.8},{"b":"o6","v":45,"x":339.7,"y":163,"z":155.1},{"b":"o6","v":45,"x":340.3,"y":163.7,"z":157.3},{"b":"o6","v":45,"x":341.3,"y":165.1,"z":158.8},{"b":"o6","v":45,"x":342,"y":166,"z":161},{"b":"o6","v":45,"x":343.7,"y":167.6,"z":161.8},{"b":"o6","v":45,"x":344.3,"y":169.2,"z":162.3},{"b":"o6","v":45,"x":345.6,"y":169.9,"z":164.5},{"b":"o6","v":45,"x":346.6,"y":170.1,"z":165.5},{"b":"o6","v":45,"x":347.3,"y":170.2,"z":162.5},{"b":"o6","v":45,"x":347.7,"y":170,"z":161},{"b":"o6","v":45,"x":348.6,"y":169.7,"z":156},{"b":"o6","v":45,"x":350,"y":169,"z":155.1},{"b":"o6","v":45,"x":352,"y":168,"z":155.1},{"b":"o6","v":45,"x":352.9,"y":167.8,"z":155.7},{"b":"o6","v":45,"x":353.3,"y":166.5,"z":158},{"b":"o6","v":45,"x":353.6,"y":165.8,"z":160},
{"b":"r6","v":50,"x":337,"y":158.7,"z":158},{"b":"r6","v":50,"x":338,"y":160.3,"z":157},{"b":"r6","v":50,"x":339.3,"y":161.7,"z":156},{"b":"r6","v":50,"x":340.3,"y":160.4,"z":157.3},
{"b":"k6","v":55,"x":338.3,"y":158.5,"z":158},{"b":"k6","v":55,"x":339.3,"y":160,"z":157},{"b":"k6","v":55,"x":340,"y":159.3,"z":157.5},
{"b":"r7","v":50,"x":344.6,"y":168.3,"z":167.5},{"b":"r7","v":50,"x":345.6,"y":168.6,"z":167.5},{"b":"r7","v":50,"x":347,"y":168.7,"z":167.6},{"b":"r7","v":50,"x":348,"y":168.6,"z":165.5},{"b":"r7","v":50,"x":350.6,"y":168.4,"z":162.9},{"b":"r7","v":50,"x":351.3,"y":168.3,"z":163},{"b":"r7","v":50,"x":353.3,"y":166.5,"z":163.3},{"b":"r7","v":50,"x":353.6,"y":165.8,"z":164.5},
{"b":"k7","v":55,"x":348.3,"y":167,"z":166.5},{"b":"k7","v":55,"x":349,"y":167.2,"z":164.7},{"b":"k7","v":55,"x":350.6,"y":167.3,"z":163.6},{"b":"k7","v":55,"x":352,"y":166.3,"z":163.7},{"b":"k7","v":55,"x":352.9,"y":165.5,"z":165},
{"b":"m7","v":60,"x":349.7,"y":165.5,"z":165.3},{"b":"m7","v":60,"x":350.5,"y":165.6,"z":165.3},{"b":"m7","v":60,"x":351.3,"y":165.4,"z":165.3},
{"b":"r8","v":50,"x":347.6,"y":161.4,"z":159.8},{"b":"r8","v":50,"x":348.3,"y":161.8,"z":157.3},{"b":"r8","v":50,"x":348.9,"y":162,"z":156.5},{"b":"r8","v":50,"x":350,"y":160.7,"z":155.4},{"b":"r8","v":50,"x":351.3,"y":159.2,"z":155.3},{"b":"r8","v":50,"x":353,"y":157.5,"z":155.4},{"b":"r8","v":50,"x":353.6,"y":157,"z":156.5},
{"b":"k8","v":55,"x":348.3,"y":161,"z":159.5},{"b":"k8","v":55,"x":349,"y":160.8,"z":157.3},{"b":"k8","v":55,"x":349.6,"y":160.4,"z":157},{"b":"k8","v":55,"x":350.6,"y":158.4,"z":156.4},{"b":"k8","v":55,"x":351.3,"y":157.3,"z":157},
{"b":"m8","v":60,"x":348.6,"y":160,"z":159.8},{"b":"m8","v":60,"x":349.4,"y":161,"z":159},{"b":"m8","v":60,"x":350,"y":160,"z":158.3},{"b":"m8","v":60,"x":350.4,"y":159.2,"z":159},
{"b":"y11","v":40,"x":374.4,"y":176.1,"z":175.8},{"b":"y11","v":40,"x":375.4,"y":177.1,"z":174.6},{"b":"y11","v":40,"x":376.3,"y":177.3,"z":173.9},{"b":"y11","v":40,"x":380.3,"y":178.3,"z":174.4},{"b":"y11","v":40,"x":383,"y":179.1,"z":175.2},{"b":"y11","v":40,"x":385.3,"y":177,"z":176.9},
{"b":"o11","v":45,"x":375.7,"y":176,"z":175.6},{"b":"o11","v":45,"x":377,"y":176.7,"z":174.9},{"b":"o11","v":45,"x":379.7,"y":176.9,"z":175.2},{"b":"o11","v":45,"x":382.7,"y":178,"z":175.6},{"b":"o11","v":45,"x":384,"y":176.7,"z":176.6},
{"b":"y12","v":40,"x":374.9,"y":170,"z":169.6},{"b":"y12","v":40,"x":375.5,"y":171.5,"z":168.7},{"b":"y12","v":40,"x":376,"y":172,"z":168.2},{"b":"y12","v":40,"x":376.4,"y":171.6,"z":168},{"b":"y12","v":40,"x":377.3,"y":170,"z":169.8},
{"b":"o12","v":45,"x":375.3,"y":170,"z":169.5},{"b":"o12","v":45,"x":376,"y":171.4,"z":168.8},{"b":"o12","v":45,"x":376.8,"y":170,"z":169.8},
{"b":"r12","v":50,"x":375.7,"y":170.3,"z":169.9},{"b":"r12","v":50,"x":376.2,"y":170.5,"z":169.6},{"b":"r12","v":50,"x":376.6,"y":170,"z":169.9},
{"b":"y13","v":40,"x":393.5,"y":186,"z":185.6},{"b":"y13","v":40,"x":394.3,"y":186.6,"z":184.9},{"b":"y13","v":40,"x":396.3,"y":187.4,"z":185},{"b":"y13","v":40,"x":398.3,"y":186.5,"z":185.2},{"b":"y13","v":40,"x":398.8,"y":186,"z":185.7},
{"b":"o13","v":45,"x":395.3,"y":186.5,"z":186.4},{"b":"o13","v":45,"x":396,"y":186.7,"z":186.2},{"b":"o13","v":45,"x":396.7,"y":186.5,"z":186.4},
{"b":"y14","v":40,"x":392.3,"y":173.5,"z":173},{"b":"y14","v":40,"x":392.9,"y":175.5,"z":172},{"b":"y14","v":40,"x":393.3,"y":176.7,"z":171.7},{"b":"y14","v":40,"x":393.6,"y":179.2,"z":171.1},{"b":"y14","v":40,"x":394.6,"y":180.2,"z":170.9},{"b":"y14","v":40,"x":396.9,"y":182,"z":170.8},{"b":"y14","v":40,"x":399.75,"y":186,"z":171.4},
{"b":"o14","v":45,"x":392.8,"y":173.5,"z":173},{"b":"o14","v":45,"x":393.3,"y":174.2,"z":172},{"b":"o14","v":45,"x":394.5,"y":177,"z":171.5},{"b":"o14","v":45,"x":394.6,"y":178,"z":171.4},{"b":"o14","v":45,"x":396.9,"y":180.5,"z":171.6},{"b":"o14","v":45,"x":399.75,"y":184.4,"z":172},
{"b":"d8","v":35,"x":397.6,"y":177.7,"z":176.5},{"b":"d8","v":35,"x":398.5,"y":178,"z":175.6},{"b":"d8","v":35,"x":399.75,"y":178.3,"z":175.2},
{"b":"r14","v":50,"x":398,"y":180,"z":179.5},{"b":"r14","v":50,"x":398.9,"y":181.3,"z":178.9},{"b":"r14","v":50,"x":399.75,"y":182.8,"z":178.5},
{"b":"r15","v":50,"x":392.9,"y":174,"z":173.7},{"b":"r15","v":50,"x":394.3,"y":174.9,"z":172.6},{"b":"r15","v":50,"x":395.6,"y":174.5,"z":172.2},{"b":"r15","v":50,"x":396.3,"y":174,"z":172.3},{"b":"r15","v":50,"x":398.3,"y":174.9,"z":172.4},{"b":"r15","v":50,"x":399.75,"y":174,"z":172.8},
{"b":"k15","v":55,"x":393.6,"y":174,"z":173.4},{"b":"k15","v":55,"x":394.5,"y":174.3,"z":172.8},{"b":"k15","v":55,"x":395.5,"y":173.5,"z":172.7},
{"b":"k16","v":55,"x":396.8,"y":173.7,"z":173},{"b":"k16","v":55,"x":398,"y":174.2,"z":172.9},{"b":"k16","v":55,"x":399,"y":173.5,"z":173}
]},
"hconcat":[
{"width":653,"height":531,
"layer":[
{"data":{"name":"storm"},"mark":{"type":"area","interpolate":"monotone","clip":true,"line":false},
"encoding":{
"x":{"field":"x","type":"quantitative","scale":{"domain":[269.6,399.8],"nice":false,"zero":false},"axis":{"values":[270,280,290,300,310,320,330,340,350,360,370,380,390],"title":"Distance (km)","grid":false,"domain":false,"tickSize":3,"tickColor":"#222","labelColor":"#222","labelFont":"DejaVu Sans","labelFontSize":11,"labelPadding":3,"titleFont":"DejaVu Sans","titleFontSize":20,"titleFontWeight":"normal","titleColor":"#222","titlePadding":13}},
"y":{"field":"y","type":"quantitative","stack":null,"scale":{"domain":[119.5,219.5],"nice":false,"zero":false},"axis":{"values":[120,130,140,150,160,170,180,190,200,210],"title":"Distance (km)","grid":false,"domain":false,"tickSize":3,"tickColor":"#222","labelColor":"#222","labelFont":"DejaVu Sans","labelFontSize":11,"labelPadding":4,"titleFont":"DejaVu Sans","titleFontSize":20,"titleFontWeight":"normal","titleColor":"#222","titlePadding":12}},
"y2":{"field":"z"},
"detail":{"field":"b"},
"fill":{"field":"v","type":"nominal","legend":null,"scale":{"domain":[5,15,16,20,25,30,35,40,45,50,55,60],"range":["#000090","#0000ff","#0000ff","#00ff00","#00c800","#00a000","#006400","#ffff00","#ff8000","#ff0000","#c00000","#ff0080"]}},
"stroke":{"field":"v","type":"nominal","legend":null,"scale":{"domain":[5,15,16,20,25,30,35,40,45,50,55,60],"range":["#000090","#0000c0","#0000ff","#00ff00","#00c800","#00a000","#00a000","#ffff00","#ff8000","#ff0000","#c00000","#ff0080"]}},
"strokeWidth":{"field":"v","type":"nominal","legend":null,"scale":{"domain":[5,15,16,20,25,30,35,40,45,50,55,60],"range":[0,5,0,0,0,0,6,0,0,0,0,0]}}
}},
{"data":{"values":[{"g":270},{"g":280},{"g":290},{"g":300},{"g":310},{"g":320},{"g":330},{"g":340},{"g":350},{"g":360},{"g":370},{"g":380},{"g":390}]},"mark":{"type":"rule","color":"#222","strokeWidth":1,"strokeDash":[1.5,6.5]},"encoding":{"x":{"field":"g","type":"quantitative"}}},
{"data":{"values":[{"g":120},{"g":130},{"g":140},{"g":150},{"g":160},{"g":170},{"g":180},{"g":190},{"g":200},{"g":210}]},"mark":{"type":"rule","color":"#b0b0b0","strokeWidth":1,"strokeDash":[1.5,6.5]},"encoding":{"y":{"field":"g","type":"quantitative"}}},
{"data":{"values":[{"x0":269.6,"x1":399.8,"y0":119.5,"y1":219.5}]},"mark":{"type":"rect","fill":null,"stroke":"#222","strokeWidth":2},"encoding":{"x":{"field":"x0","type":"quantitative"},"x2":{"field":"x1"},"y":{"field":"y0","type":"quantitative"},"y2":{"field":"y1"}}},
{"data":{"values":[{"x":272.2,"y":212.7,"t":"t = 4:40"}]},"mark":{"type":"text","font":"Liberation Serif","fontSize":46,"align":"left","baseline":"alphabetic","color":"#111a2a"},"encoding":{"x":{"field":"x","type":"quantitative"},"y":{"field":"y","type":"quantitative"},"text":{"field":"t"}}}
]},
{"width":42,"height":531,
"layer":[
{"data":{"values":[{"a":0,"c":18.5,"lo":0,"hi":5},{"a":0,"c":18.5,"lo":5,"hi":10},{"a":0,"c":18.5,"lo":10,"hi":15},{"a":0,"c":18.5,"lo":15,"hi":20},{"a":0,"c":18.5,"lo":20,"hi":25},{"a":0,"c":18.5,"lo":25,"hi":30},{"a":0,"c":18.5,"lo":30,"hi":35},{"a":0,"c":18.5,"lo":35,"hi":40},{"a":0,"c":18.5,"lo":40,"hi":45},{"a":0,"c":18.5,"lo":45,"hi":50},{"a":0,"c":18.5,"lo":50,"hi":55},{"a":0,"c":18.5,"lo":55,"hi":60}]},
"mark":{"type":"rect","stroke":"#222","strokeWidth":1},
"encoding":{"x":{"field":"a","type":"quantitative","axis":null,"scale":{"domain":[0,42],"nice":false,"zero":false}},"x2":{"field":"c"},"y":{"field":"lo","type":"quantitative","axis":null,"scale":{"domain":[-3.2,63.45],"nice":false,"zero":false}},"y2":{"field":"hi"},
"fill":{"field":"lo","type":"nominal","legend":null,"scale":{"domain":[0,5,10,15,20,25,30,35,40,45,50,55],"range":["#000070","#000090","#0000c0","#0000ff","#00ff00","#00c800","#00a000","#006400","#ffff00","#ff8000","#ff0000","#c00000"]}}}},
{"data":{"values":[{"k":"t","val":60,"a":0,"c":18.5},{"k":"t","val":64.6,"a":9.25,"c":9.25}]},"mark":{"type":"area","orient":"horizontal","fill":"#ff0080","stroke":"#222","strokeWidth":1},"encoding":{"y":{"field":"val","type":"quantitative"},"x":{"field":"a","type":"quantitative"},"x2":{"field":"c"}}},
{"data":{"values":[{"k":"b","val":0,"a":0,"c":18.5},{"k":"b","val":-5,"a":9.25,"c":9.25}]},"mark":{"type":"area","orient":"horizontal","fill":"#ffffff","stroke":"#222","strokeWidth":1},"encoding":{"y":{"field":"val","type":"quantitative"},"x":{"field":"a","type":"quantitative"},"x2":{"field":"c"}}},
{"data":{"values":[{"p":26.7,"val":0},{"p":26.7,"val":5},{"p":26.7,"val":10},{"p":26.7,"val":15},{"p":26.7,"val":20},{"p":26.7,"val":25},{"p":26.7,"val":30},{"p":26.7,"val":35},{"p":26.7,"val":40},{"p":26.7,"val":45},{"p":26.7,"val":50},{"p":26.7,"val":55},{"p":26.7,"val":60}]},"mark":{"type":"text","align":"left","baseline":"middle","font":"DejaVu Sans","fontSize":15,"color":"#222"},"encoding":{"x":{"field":"p","type":"quantitative"},"y":{"field":"val","type":"quantitative"},"text":{"field":"val"}}}
],"resolve":{"scale":{"x":"shared","y":"shared"}}},
{"width":37,"height":583.5,
"layer":[
{"data":{"values":[{"a":0,"c":37,"lo":-0.3878,"hi":-1.0537}]},"mark":{"type":"rect","fill":"#003399","stroke":"#1a2a50","strokeWidth":1,"clip":true},"encoding":{"x":{"field":"a","type":"quantitative","axis":null,"scale":{"domain":[0,37],"nice":false,"zero":false}},"x2":{"field":"c"},"y":{"field":"lo","type":"quantitative","axis":null,"scale":{"domain":[-1.0537,0.3695],"nice":false,"zero":false}},"y2":{"field":"hi"}}},
{"data":{"values":[{"p":6,"val":0.4,"t":"0.4"},{"p":6,"val":0.3,"t":"0.3"},{"p":6,"val":0.2,"t":"0.2"},{"p":6,"val":0.1,"t":"0.1"}]},"mark":{"type":"text","align":"left","baseline":"middle","font":"Liberation Sans","fontSize":17,"color":"#333"},"encoding":{"x":{"field":"p","type":"quantitative"},"y":{"field":"val","type":"quantitative"},"text":{"field":"t"}}},
{"data":{"values":[{"p":6,"val":0,"t":"0"}]},"mark":{"type":"text","align":"left","baseline":"middle","font":"Liberation Sans","fontSize":17,"color":"#777"},"encoding":{"x":{"field":"p","type":"quantitative"},"y":{"field":"val","type":"quantitative"},"text":{"field":"t"}}},
{"data":{"values":[{"p":-23,"val":-0.8065,"t":"ve"},{"p":-13,"val":-0.9772,"t":"str"},{"p":0,"val":-1.148,"t":"d"}]},"mark":{"type":"text","align":"left","baseline":"alphabetic","font":"Liberation Serif","fontSize":65,"color":"#001a4d","clip":true},"encoding":{"x":{"field":"p","type":"quantitative"},"y":{"field":"val","type":"quantitative"},"text":{"field":"t"}}},
{"data":{"values":[{"p":-24,"val":-0.8024,"t":"ve"},{"p":-14,"val":-0.973,"t":"str"},{"p":-1,"val":-1.144,"t":"d"}]},"mark":{"type":"text","align":"left","baseline":"alphabetic","font":"Liberation Serif","fontSize":65,"color":"#ffffff","clip":true},"encoding":{"x":{"field":"p","type":"quantitative"},"y":{"field":"val","type":"quantitative"},"text":{"field":"t"}}}
]}
]}
